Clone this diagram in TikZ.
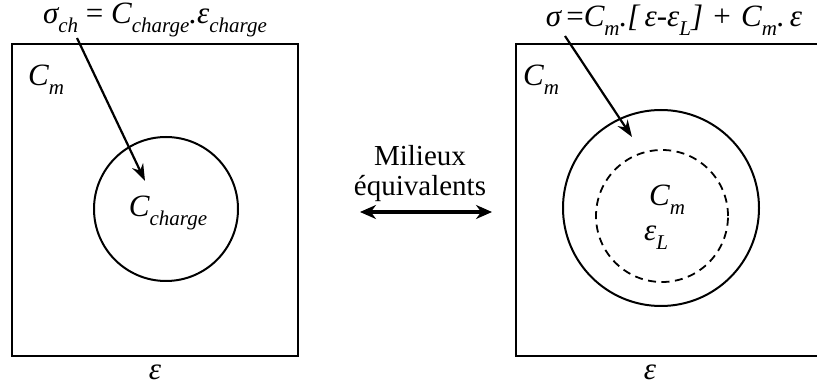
\documentclass[tikz,border=0pt]{standalone}
\usepackage{fontspec}
\setmainfont{Liberation Serif}
\usetikzlibrary{arrows.meta}
\newcommand\lsub[1]{\raisebox{-0.3em}{\fontsize{21}{21}\selectfont #1}}
\tikzset{
  box/.style={draw, line width=2.4pt},
  ring/.style={draw, circle, line width=2pt, inner sep=0pt},
  dring/.style={draw, circle, line width=1.8pt, dash pattern=on 8pt off 5.5pt, inner sep=0pt},
  lab/.style={font=\fontsize{31}{33}\selectfont\itshape, inner sep=0pt},
  txt/.style={font=\fontsize{29}{30}\selectfont, inner sep=0pt, align=center},
  ptr/.style={line width=2.2pt, -{Stealth[length=17pt, width=12pt]}},
  dbl/.style={line width=3.5pt, {Stealth[length=16pt, width=14pt]}-{Stealth[length=16pt, width=14pt]}}
}
\begin{document}
\begin{tikzpicture}[x=1pt, y=-1pt]
\clip (0,0) rectangle (817,387);
\fill[white] (0,0) rectangle (817,387);
% left medium
\draw[box] (12,44) rectangle (298,356);
\node[ring, minimum size=144pt] (c1) at (166,209) {};
\node[lab] (f1) at (155,20) {σ\lsub{ch} {\upshape =} C\lsub{charge}.ε\lsub{charge}};
\node[lab] (cm1) at (46,80) {C\lsub{m}};
\node[lab] (cc) at (168,213) {C\lsub{charge}};
\node[lab] (e1) at (155,372) {ε};
\coordinate (t1) at (145,181);
\coordinate (s1) at (77,38);
\draw[ptr] (s1) -- (t1);
% middle
\node[txt] (mid) at (420,174) {Milieux\\équivalents};
\coordinate (al) at (360,212);
\coordinate (ar) at (492,212);
\draw[dbl] (al) -- (ar);
% right medium
\draw[box] (516,44) rectangle (830,356);
\node[ring, minimum size=196pt] (c2) at (661,208) {};
\node[dring, minimum size=132pt] (c3) at (662,216) {};
\node[lab] (f2) at (674,20) {σ\,{\upshape =}C\lsub{m}.[\,ε-ε\lsub{L}]\,\,{\upshape +}\,\,C\lsub{m}.\,ε};
\node[lab] (cm2) at (541,80) {C\lsub{m}};
\node[lab] (cm3) at (667,200) {C\lsub{m}};
\node[lab] (el) at (656,238) {ε\lsub{L}};
\node[lab] (e2) at (650,372) {ε};
\coordinate (t2) at (632,137);
\coordinate (s2) at (565,36);
\draw[ptr] (s2) -- (t2);
\end{tikzpicture}
\end{document}
